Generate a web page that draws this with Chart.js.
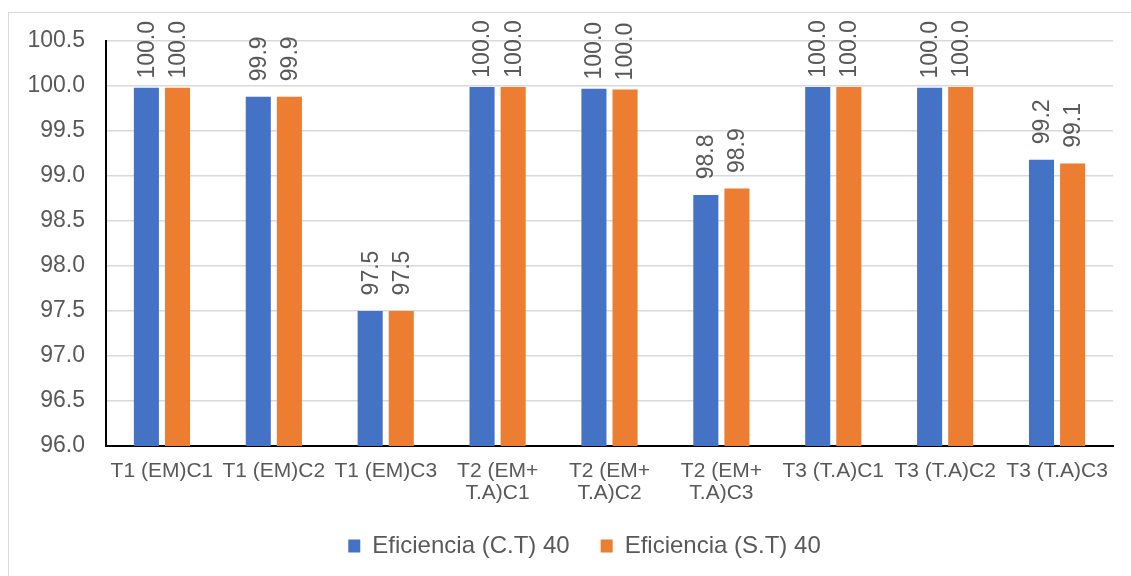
<!DOCTYPE html>
<html>
<head>
<meta charset="utf-8">
<script src="https://cdn.jsdelivr.net/npm/chart.js@4.4.1/dist/chart.umd.min.js"></script>
<style>
  html, body { margin: 0; padding: 0; background: #fff; }
  #marco { position: absolute; left: 8px; top: 12px; width: 1200px; height: 700px; border-left: 1px solid #d9d9d9; border-top: 1px solid #d9d9d9; }
  #grafico { position: absolute; left: 0; top: 0; }
</style>
</head>
<body>
<div id="marco"></div>
<canvas id="grafico" width="1131" height="576"></canvas>
<script>
const categorias = [
  "T1 (EM)C1", "T1 (EM)C2", "T1 (EM)C3",
  ["T2 (EM+", "T.A)C1"], ["T2 (EM+", "T.A)C2"], ["T2 (EM+", "T.A)C3"],
  "T3 (T.A)C1", "T3 (T.A)C2", "T3 (T.A)C3"
];
const eficienciaCT = [99.98, 99.88, 97.50, 99.99, 99.97, 98.79, 99.99, 99.98, 99.18];
const eficienciaST = [99.98, 99.88, 97.50, 99.99, 99.96, 98.86, 99.99, 99.99, 99.14];
const ejeY = { min: 96.0, max: 100.5, paso: 0.5 };

const FUENTE = "'Liberation Sans', Arial, sans-serif";
const GRIS_TEXTO = "#595959";

// etiquetas de datos giradas sobre cada barra
const etiquetasBarras = {
  id: "etiquetasBarras",
  afterDatasetsDraw(chart) {
    const ctx = chart.ctx;
    ctx.save();
    ctx.font = "23px " + FUENTE;
    ctx.fillStyle = GRIS_TEXTO;
    ctx.textAlign = "center";
    ctx.textBaseline = "middle";
    chart.data.datasets.forEach((ds, i) => {
      chart.getDatasetMeta(i).data.forEach((bar, j) => {
        ctx.save();
        ctx.translate(bar.x, bar.y - 38);
        ctx.rotate(-Math.PI / 2);
        ctx.fillText(ds.data[j].toFixed(1), 0, 1);
        ctx.restore();
      });
    });
    ctx.restore();
  }
};

// la leyenda de Excel va un poco corrida a la derecha
const moverLeyenda = {
  id: "moverLeyenda",
  afterLayout(chart) {
    if (chart.legend) chart.legend.left = 56;
  }
};

new Chart(document.getElementById("grafico"), {
  type: "bar",
  data: {
    labels: categorias,
    datasets: [
      {
        label: "Eficiencia (C.T) 40",
        data: eficienciaCT,
        backgroundColor: "#4472C4",
        categoryPercentage: 0.556,
        barPercentage: 0.806
      },
      {
        label: "Eficiencia (S.T) 40",
        data: eficienciaST,
        backgroundColor: "#ED7D31",
        categoryPercentage: 0.556,
        barPercentage: 0.806
      }
    ]
  },
  options: {
    responsive: false,
    animation: false,
    layout: { padding: { left: 0, top: 41, right: 18, bottom: 8 } },
    plugins: {
      tooltip: { enabled: false },
      legend: {
        position: "bottom",
        labels: {
          boxWidth: 12,
          boxHeight: 13,
          padding: 31,
          color: GRIS_TEXTO,
          font: { size: 24, family: FUENTE }
        }
      }
    },
    scales: {
      x: {
        grid: { display: false, drawTicks: false },
        border: { color: "#000", width: 2 },
        ticks: {
          color: GRIS_TEXTO,
          padding: 14,
          maxRotation: 0,
          autoSkip: false,
          font: { size: 21, family: FUENTE, lineHeight: 1.05 }
        },
        afterFit: scale => { scale.height = 57; }
      },
      y: {
        min: ejeY.min,
        max: ejeY.max,
        grid: { color: "#d9d9d9", lineWidth: 1.5, drawTicks: false },
        border: { color: "#000", width: 2 },
        ticks: {
          stepSize: ejeY.paso,
          color: GRIS_TEXTO,
          padding: 21,
          font: { size: 23, family: FUENTE },
          callback: v => v.toFixed(1)
        },
        afterFit: scale => { scale.width = 106; }
      }
    }
  },
  plugins: [etiquetasBarras, moverLeyenda]
});
</script>
</body>
</html>
